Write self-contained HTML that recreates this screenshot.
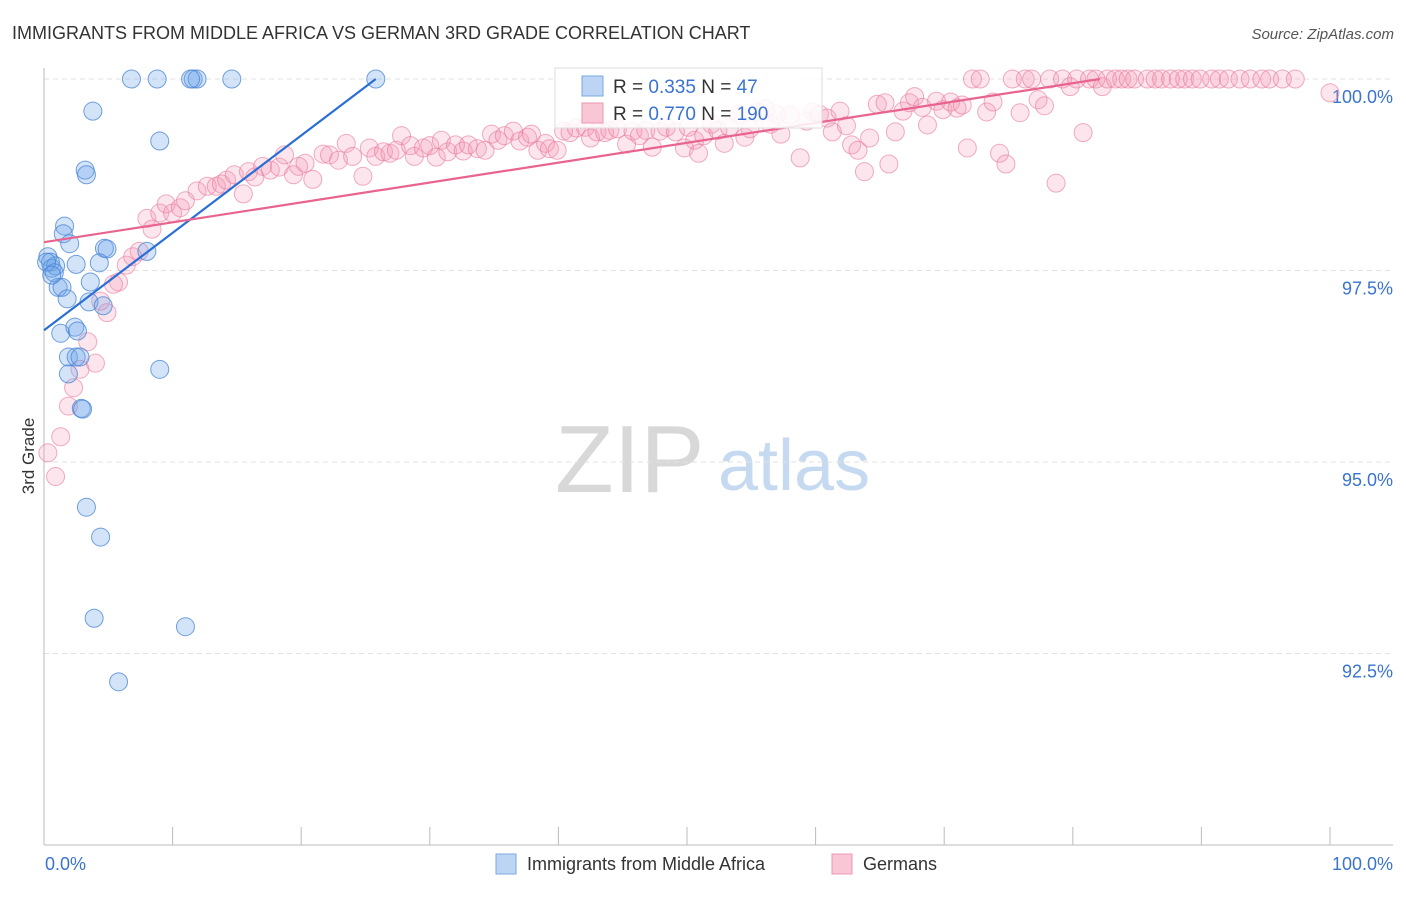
<!DOCTYPE html>
<html><head><meta charset="utf-8"><style>
body{margin:0;background:#fff;font-family:"Liberation Sans",sans-serif;}
svg text{font-family:"Liberation Sans",sans-serif;}
</style></head><body>
<svg id="chart" width="1406" height="892" viewBox="0 0 1406 892">
<text x="12" y="39" font-size="18" fill="#333">IMMIGRANTS FROM MIDDLE AFRICA VS GERMAN 3RD GRADE CORRELATION CHART</text>
<text x="1394" y="39" font-size="15" fill="#555" font-style="italic" text-anchor="end">Source: ZipAtlas.com</text>
<g>
<text x="555" y="492" font-size="96" fill="#d8d8d8" font-family="Liberation Serif">ZIP</text>
<text x="718" y="490" font-size="72" fill="#c5d9f0">atlas</text>
</g>
<g id="grid"></g>
<g id="axes"></g>
<g id="pinkPts"></g>
<g id="bluePts"></g>
<g id="trends"></g>
<text x="34" y="456" font-size="17" fill="#333" text-anchor="middle" transform="rotate(-90 34 456)">3rd Grade</text>
<g>
<rect x="555" y="68" width="267" height="60" fill="#fff" fill-opacity="0.85" stroke="#ddd"/>
<rect x="582" y="76" width="21" height="20" fill="#bcd5f5" stroke="#7aa8e0"/>
<text x="613" y="93" font-size="19" fill="#333">R = <tspan fill="#3a73d0">0.335</tspan>   N = <tspan fill="#3a73d0">  47</tspan></text>
<rect x="582" y="103" width="21" height="20" fill="#f9c6d6" stroke="#ec98b3"/>
<text x="613" y="120" font-size="19" fill="#333">R = <tspan fill="#3a73d0">0.770</tspan>   N = <tspan fill="#3a73d0">190</tspan></text>
</g>
<g>
<rect x="496" y="854" width="20" height="20" fill="#bcd5f5" stroke="#7aa8e0"/>
<text x="527" y="870" font-size="18" fill="#333">Immigrants from Middle Africa</text>
<rect x="832" y="854" width="20" height="20" fill="#f9c6d6" stroke="#ec98b3"/>
<text x="863" y="870" font-size="18" fill="#333">Germans</text>
</g>
</svg>
<script>
const xTickLabels=["0.0%","100.0%"];
const yTicks=[100,97.5,95,92.5];
const yTickLabels=["100.0%","97.5%","95.0%","92.5%"];
const blueX=[6.8,8.8,11.6,11.9,11.4,14.6,25.8,3.8,9.0,3.2,3.3,1.6,1.5,2.0,4.7,4.9,8.0,4.3,2.5,0.3,0.5,0.6,0.9,0.8,1.1,1.4,3.6,1.8,3.5,4.6,1.3,2.4,2.6,1.9,2.5,2.8,1.9,9.0,2.9,3.0,3.3,4.4,3.9,11.0,5.8,0.2,0.6];
const blueY=[100,100,100,100,100,100,100,99.58,99.19,98.81,98.75,98.08,97.98,97.85,97.79,97.78,97.75,97.60,97.58,97.68,97.61,97.53,97.56,97.47,97.28,97.28,97.35,97.13,97.09,97.04,96.68,96.76,96.71,96.37,96.37,96.37,96.15,96.21,95.70,95.69,94.41,94.02,92.96,92.85,92.13,97.61,97.44];
const pinkX=[0.3,0.9,1.3,1.9,2.3,2.8,3.4,4.0,4.9,4.4,5.8,5.4,6.4,6.9,7.4,8.0,8.4,9.0,9.5,10.0,10.6,11.0,11.9,12.7,13.4,13.8,14.2,14.8,15.5,15.9,16.4,17.0,17.6,18.3,18.7,19.4,19.8,20.3,20.9,21.7,22.2,22.9,23.5,24.0,24.8,25.3,25.8,26.4,26.9,27.4,27.8,28.5,28.8,29.5,30.0,30.5,30.9,31.4,32.0,32.6,33.0,33.7,34.3,34.8,35.3,35.8,36.5,37.0,37.6,37.9,38.4,39.0,39.3,39.9,40.4,40.9,41.4,42.1,42.5,43.0,43.6,44.0,44.6,45.3,45.8,46.3,46.8,47.3,47.9,48.4,49.1,49.8,50.1,50.6,50.9,51.3,51.9,52.4,52.9,53.3,54.0,54.5,54.9,55.5,56.1,56.5,57.0,57.3,58.0,58.8,59.3,59.8,60.3,60.9,61.3,61.9,62.4,62.8,63.3,63.8,64.2,64.8,65.4,65.7,66.2,66.8,67.3,67.7,68.3,68.7,69.4,69.9,70.5,71.0,71.4,71.8,72.2,72.8,73.3,73.8,74.3,74.8,75.3,75.9,76.3,76.8,77.3,77.8,78.2,78.7,79.2,79.8,80.3,80.8,81.3,81.8,82.3,82.7,83.3,83.8,84.3,84.8,85.8,86.4,86.9,87.6,88.2,88.7,89.3,89.9,90.8,91.4,92.1,93.0,93.8,94.7,95.3,96.3,97.3,100];
const pinkY=[95.12,94.81,95.33,95.73,95.97,96.21,96.57,96.29,96.95,97.10,97.35,97.32,97.57,97.68,97.75,98.18,98.04,98.25,98.37,98.25,98.32,98.41,98.54,98.60,98.60,98.63,98.68,98.75,98.50,98.79,98.72,98.86,98.81,98.85,99.01,98.75,98.86,98.90,98.69,99.02,99.01,98.94,99.16,98.99,98.73,99.10,98.99,99.05,99.03,99.07,99.26,99.13,98.99,99.10,99.13,98.98,99.20,99.05,99.14,99.06,99.14,99.09,99.07,99.28,99.20,99.26,99.32,99.19,99.24,99.28,99.07,99.16,99.09,99.07,99.32,99.30,99.36,99.37,99.23,99.31,99.30,99.33,99.35,99.15,99.32,99.26,99.33,99.11,99.32,99.37,99.31,99.10,99.37,99.20,99.03,99.26,99.41,99.33,99.16,99.37,99.54,99.24,99.35,99.57,99.61,99.41,99.54,99.28,99.53,98.97,99.45,99.57,99.54,99.49,99.31,99.58,99.39,99.14,99.07,98.79,99.23,99.67,99.69,98.89,99.31,99.58,99.69,99.77,99.63,99.40,99.71,99.60,99.70,99.62,99.66,99.10,100,100,99.57,99.70,99.03,98.89,100,99.56,100,100,99.73,99.65,100,98.64,100,99.90,100,99.30,100,100,99.90,100,100,100,100,100,100,100,100,100,100,100,100,100,100,100,100,100,100,100,100,100,100,99.82];
const blueTrendX=[0,25.8];
const blueTrendY=[96.72,100];
const pinkTrendX=[0,82.1];
const pinkTrendY=[97.87,100];

const NS="http://www.w3.org/2000/svg";
const X0=44,X1=1330,Y100=79,PXPER=76.6;
const sx=v=>X0+(X1-X0)*v/100;
const sy=v=>Y100+(100-v)*PXPER;
function mk(tag,attrs,parent){const e=document.createElementNS(NS,tag);for(const k in attrs)e.setAttribute(k,attrs[k]);parent.appendChild(e);return e;}
const grid=document.getElementById('grid'),axes=document.getElementById('axes');
yTicks.forEach((t,i)=>{
  const l=mk('line',{x1:X0,x2:1393,y1:sy(t),y2:sy(t),stroke:'#e2e2e2','stroke-dasharray':'5,4'},grid);
  
  
  const tx=mk('text',{x:1393,y:sy(t)+24,'font-size':18,fill:'#3a73d0','text-anchor':'end'},axes);
  tx.textContent=yTickLabels[i];
  
  
});
const ya=mk('line',{x1:X0,x2:X0,y1:68,y2:845,stroke:'#bbb'},axes);


const xa=mk('line',{x1:X0,x2:1393,y1:845,y2:845,stroke:'#bbb'},axes);


for(let i=0;i<=10;i++){
  const t=mk('line',{x1:sx(i*10),x2:sx(i*10),y1:827,y2:845,stroke:'#bbb'},axes);
  
  
}
[[0,'start',45],[100,'end',1393]].forEach((d,i)=>{
  const tx=mk('text',{x:d[2],y:870,'font-size':18,fill:'#3a73d0','text-anchor':d[1]},axes);
  tx.textContent=xTickLabels[i];
  
  
});
const pg=document.getElementById('pinkPts');
pinkX.forEach((x,i)=>{
  const c=mk('circle',{cx:sx(x),cy:sy(pinkY[i]),r:9,fill:'rgba(243,150,180,0.25)',stroke:'rgba(232,120,155,0.6)','stroke-width':1},pg);
  
  
});
const bg=document.getElementById('bluePts');
blueX.forEach((x,i)=>{
  const c=mk('circle',{cx:sx(x),cy:sy(blueY[i]),r:9,fill:'rgba(110,165,235,0.3)',stroke:'rgba(70,130,210,0.75)','stroke-width':1},bg);
  
  
});
const tg=document.getElementById('trends');
const bl=mk('line',{x1:sx(blueTrendX[0]),y1:sy(blueTrendY[0]),x2:sx(blueTrendX[1]),y2:sy(blueTrendY[1]),stroke:'#2a6fd6','stroke-width':2.2},tg);


const pl=mk('line',{x1:sx(pinkTrendX[0]),y1:sy(pinkTrendY[0]),x2:sx(pinkTrendX[1]),y2:sy(pinkTrendY[1]),stroke:'#e8648f','stroke-width':2.2},tg);


</script>
</body></html>
